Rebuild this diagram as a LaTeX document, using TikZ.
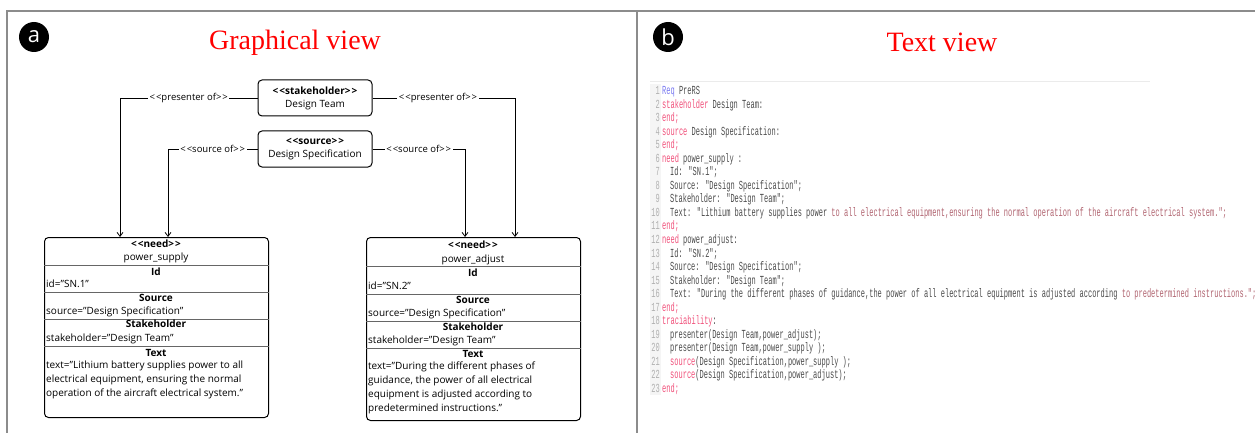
\documentclass[tikz,border=0pt]{standalone}
\usepackage{fontspec}
\setmainfont{Open Sans}
\newfontfamily\titlefont{Liberation Serif}
\newfontfamily\codefont[FakeStretch=0.57]{Liberation Mono}
\usepackage{xcolor}
\usetikzlibrary{arrows.meta}

\definecolor{framegray}{HTML}{8C8C8C}
\definecolor{kwred}{HTML}{F0507A}
\definecolor{kwblue}{HTML}{7878F0}
\definecolor{strred}{HTML}{B06470}
\definecolor{codegray}{HTML}{4A4A4A}
\definecolor{numgray}{HTML}{B0B0B0}

\newcommand{\kwr}[1]{\textcolor{kwred}{#1}}
\newcommand{\kwb}[1]{\textcolor{kwblue}{#1}}
\newcommand{\strr}[1]{\textcolor{strred}{#1}}

\tikzset{
	box/.style={draw, rounded corners=4pt, line width=1pt},
	topbox/.style={box, minimum width=114pt, minimum height=36pt, align=center, inner sep=1pt,
		font=\fontsize{10}{13}\selectfont},
	needbox/.style={box, anchor=north west},
	lbl/.style={fill=white, inner sep=1.5pt, font=\fontsize{9.5}{11}\selectfont},
	hdr/.style={inner sep=0pt, text height=8pt, text depth=2.5pt, font=\fontsize{10}{14}\selectfont},
	val/.style={hdr, anchor=west},
	longtext/.style={anchor=north west, inner sep=0pt, align=left, font=\fontsize{10}{14}\selectfont},
	arr/.style={-{Straight Barb[length=4pt,width=6pt]}, line width=0.8pt},
	badge/.style={circle, fill=black, text=white, minimum size=30pt, inner sep=0pt,
		font=\fontsize{22}{22}\selectfont},
	title/.style={text=red, inner sep=0pt, font=\titlefont\fontsize{28}{28}\selectfont},
	codeline/.style={anchor=base west, inner sep=0pt, text=codegray, font=\codefont\fontsize{12.3}{13}\selectfont},
	codenum/.style={anchor=base east, inner sep=0pt, text=numgray, font=\codefont\fontsize{12.3}{13}\selectfont}
}

\begin{document}
\begin{tikzpicture}[x=1pt, y=-1pt]
	\useasboundingbox (0,0) rectangle (1255,433);
	\def\yTOP{11};
	\def\yBOT{433};

	% frame
	\begin{scope}[framegray, line width=2pt]
		\draw (7,\yBOT) -- (7,\yTOP) -- (1255,\yTOP);
		\draw (637,\yTOP) -- (637,\yBOT);
	\end{scope}

	% graphical view
	\node[badge] (badgeA) at (34,37) {a};
	\node[title] (titleA) at (295,43) {Graphical view};

	\node[topbox] (team) at (315,98) {\textbf{<\kern1pt<stakeholder>\kern1pt>}\\Design Team};
	\node[topbox] (spec) at (315,149) {\textbf{<\kern1pt<source>\kern1pt>}\\Design Specification};

	\node[needbox, minimum width=224pt, minimum height=180pt] (supply) at (44,237) {};
	\node[needbox, minimum width=214pt, minimum height=183pt] (adjust) at (366,237) {};

	\begin{scope}[line width=0.5pt, black!60]
		\foreach \y in {265,292,319,346}
			\draw (supply.west |- 0,\y) -- (supply.east |- 0,\y);
		\foreach \y in {266,294,321,348}
			\draw (adjust.west |- 0,\y) -- (adjust.east |- 0,\y);
	\end{scope}

	% power_supply
	\node[hdr] (supplyStereo) at (156,245) {\textbf{<\kern1pt<need>\kern1pt>}};
	\node[hdr] (supplyName) at (156,258) {power\_supply};
	\node[hdr] (supplyIdH) at (156,273) {\textbf{Id}};
	\node[val] (supplyId) at (46,285) {id="SN.1"};
	\node[hdr] (supplySrcH) at (156,299) {\textbf{Source}};
	\node[val] (supplySrc) at (46,312) {source="Design Specification"};
	\node[hdr] (supplyStkH) at (156,325) {\textbf{Stakeholder}};
	\node[val] (supplyStk) at (46,339) {stakeholder="Design Team"};
	\node[hdr] (supplyTxtH) at (156,354) {\textbf{Text}};
	\node[longtext] (supplyTxt) at (46,361) {text="Lithium battery supplies power to all\\
		electrical equipment, ensuring the normal\\
		operation of the aircraft electrical system."};

	% power_adjust
	\node[hdr] (adjustStereo) at (473,246) {\textbf{<\kern1pt<need>\kern1pt>}};
	\node[hdr] (adjustName) at (473,260) {power\_adjust};
	\node[hdr] (adjustIdH) at (473,274) {\textbf{Id}};
	\node[val] (adjustId) at (368,287) {id="SN.2"};
	\node[hdr] (adjustSrcH) at (473,301) {\textbf{Source}};
	\node[val] (adjustSrc) at (368,314) {source="Design Specification"};
	\node[hdr] (adjustStkH) at (473,328) {\textbf{Stakeholder}};
	\node[val] (adjustStk) at (368,341) {stakeholder="Design Team"};
	\node[hdr] (adjustTxtH) at (473,355) {\textbf{Text}};
	\node[longtext] (adjustTxt) at (368,362) {text="During the different phases of\\
		guidance, the power of all electrical\\
		equipment is adjusted according to\\
		predetermined instructions."};

	\begin{scope}[arr]
		\draw (team.west) -| node[lbl, pos=0.25] (presLeft) {<\kern1pt<presenter of>\kern1pt>} ([xshift=76pt]supply.north west);
		\draw (team.east) -| node[lbl, pos=0.23] (presRight) {<\kern1pt<presenter of>\kern1pt>} ([xshift=149pt]adjust.north west);
		\draw (spec.west) -| node[lbl, pos=0.25] (srcLeft) {<\kern1pt<source of>\kern1pt>} ([xshift=124pt]supply.north west);
		\draw (spec.east) -| node[lbl, pos=0.25] (srcRight) {<\kern1pt<source of>\kern1pt>} ([xshift=99pt]adjust.north west);
	\end{scope}

	% text view
	\node[badge] (badgeB) at (668,37) {b};
	\node[title] (titleB) at (942,42) {Text view};

	\draw[black!8, line width=1pt] (650,82) -- (1150,82);
	\fill[black!4] (650,84) rectangle (661,395);

	\foreach \n/\x/\txt in {
		1/662/{\kwb{Req} PreRS},
		2/662/{\kwr{stakeholder} Design Team:},
		3/662/{\kwr{end;}},
		4/662/{\kwr{source} Design Specification:},
		5/662/{\kwr{end;}},
		6/662/{\kwr{need} power\_supply :},
		7/670/{Id: "SN.1";},
		8/670/{Source: "Design Specification";},
		9/670/{Stakeholder: "Design Team";},
		10/670/{Text: "Lithium battery supplies power \strr{to all electrical equipment,ensuring the normal operation of the aircraft electrical system.";}},
		11/662/{\kwr{end;}},
		12/662/{\kwr{need} power\_adjust:},
		13/670/{Id: "SN.2";},
		14/670/{Source: "Design Specification";},
		15/670/{Stakeholder: "Design Team";},
		16/670/{Text: "During the different phases of guidance,the power of all electrical equipment is adjusted according \strr{to predetermined instructions.";}},
		17/662/{\kwr{end;}},
		18/662/{\kwr{traciability}:},
		19/670/{presenter(Design Team,power\_adjust);},
		20/670/{presenter(Design Team,power\_supply );},
		21/670/{\kwr{source}(Design Specification,power\_supply );},
		22/670/{\kwr{source}(Design Specification,power\_adjust);},
		23/662/{\kwr{end;}}
	} {
		\pgfmathsetmacro{\yy}{94.5+(\n-1)*13.545}
		\node[codenum] (num\n) at (660,\yy) {\n};
		\node[codeline] (line\n) at (\x,\yy) {\txt};
	}
\end{tikzpicture}
\end{document}
